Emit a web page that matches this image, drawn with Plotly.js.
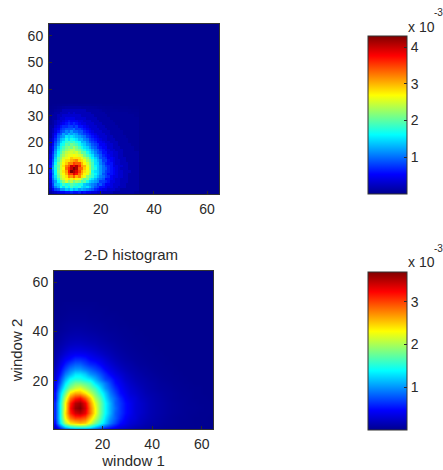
<!DOCTYPE html>
<html><head><meta charset="utf-8">
<script src="https://cdn.plot.ly/plotly-3.0.0.min.js"></script>
<style>html,body{margin:0;padding:0;background:#fff}</style></head>
<body><div id="chart" style="width:443px;height:470px"></div>
<script>
// Bins of the measured histogram (the part that is not background)
const measuredBins = [1,2,3,4,5,6,7,8,9,10,11,12,13,14,15,16,17,18,19,20,21,22,23,24,25,26,27,28,29,30,31,32,33,34];
// Densities in units of 1e-4, one row per bin, from window 2 = 1 upward
const measuredHist = [
[1,2,3,4,5,5,6,6,7,6,6,7,5,6,5,5,4,4,3,3,2,2,2,2,1,1,1,1,1,1,1,1,.5,.5],
[2,5,8,9,12,12,14,13,15,13,14,12,13,12,11,10,9,7,6,5,4,4,3,3,3,2,2,1,1,1,1,1,1,1],
[3,7,11,13,17,15,18,16,19,17,17,18,15,14,15,13,11,9,8,6,6,5,4,4,3,3,2,2,2,1,1,1,1,1],
[3,8,13,14,16,19,17,18,20,19,18,17,17,14,13,12,11,10,8,9,7,5,5,4,3,3,3,2,2,1,1,1,1,1],
[4,9,12,16,19,22,25,22,24,21,23,22,19,20,17,14,13,12,11,8,8,7,6,4,4,3,3,2,2,2,1,1,1,1],
[4,10,14,18,23,25,27,28,26,28,27,26,23,20,21,17,15,13,11,10,9,6,6,5,4,3,3,2,2,2,1,1,1,1],
[5,11,15,20,24,26,28,32,31,34,30,32,28,26,22,20,18,15,13,11,10,8,7,5,4,4,3,3,2,2,1,1,1,1],
[5,10,16,21,25,27,30,35,35,39,37,33,30,27,26,22,18,16,14,12,9,8,6,6,5,4,3,3,2,2,1,1,1,1],
[6,11,16,22,25,28,31,37,43,41,39,35,31,28,26,24,17,15,14,12,10,8,7,6,5,4,3,3,2,2,2,1,1,1],
[5,12,17,21,25,27,33,36,40,43,41,34,33,29,27,23,19,17,14,12,10,9,7,6,5,4,3,2,2,2,1,1,1,1],
[6,11,18,20,25,28,32,34,40,38,41,36,31,30,26,23,19,16,14,12,10,8,7,6,4,4,3,3,2,2,1,1,1,1],
[5,10,16,21,24,27,29,32,32,35,34,34,30,27,25,22,19,15,14,11,9,7,6,6,4,3,3,2,2,2,1,1,1,1],
[5,9,15,19,23,26,28,28,30,31,32,29,28,26,23,21,18,15,13,11,8,8,6,5,4,3,3,2,2,1,1,1,1,1],
[4,8,14,19,22,25,26,27,29,28,28,28,26,24,22,19,16,14,12,9,8,7,5,5,4,3,2,2,2,1,1,1,1,1],
[4,8,13,17,21,23,25,26,26,27,26,25,24,21,19,17,15,12,11,9,7,6,5,4,3,3,2,2,1,1,1,1,1,1],
[3,7,12,16,19,22,24,25,25,24,25,23,20,20,17,15,13,11,9,8,6,6,4,4,3,3,2,2,1,1,1,1,1,1],
[3,6,11,15,18,20,22,23,24,24,22,21,19,17,15,14,12,10,9,7,6,5,4,3,3,2,2,2,1,1,1,1,.5,.5],
[3,6,10,14,17,19,21,22,21,23,21,19,17,15,14,12,10,9,7,6,5,5,3,3,2,2,2,1,1,1,1,1,.5,.5],
[2,5,9,12,16,17,20,19,21,20,19,17,15,14,12,11,9,8,7,5,5,4,3,3,2,2,1,1,1,1,1,.5,.5,.5],
[2,4,8,11,14,16,18,19,18,19,17,16,13,13,11,9,8,7,5,5,4,3,3,2,2,2,1,1,1,1,.5,.5,.5,.5],
[2,4,7,10,13,14,17,15,17,16,15,13,13,11,10,8,7,6,5,4,3,3,2,2,2,1,1,1,1,1,.5,.5,.5,.5],
[1,3,6,9,11,12,15,14,15,14,13,12,11,10,8,7,6,5,4,3,3,3,2,2,1,1,1,1,1,.5,.5,.5,.5,.5],
[1,3,5,8,9,12,11,13,12,13,12,10,9,8,7,6,5,4,3,3,3,2,2,1,1,1,1,1,.5,.5,.5,.5,.5,.5],
[1,2,4,6,8,9,11,10,12,10,10,9,9,7,6,5,4,3,3,3,2,2,2,1,1,1,1,1,.5,.5,.5,.5,.5,.5],
[1,2,4,5,7,8,9,9,9,10,8,8,7,6,5,4,3,3,3,2,2,2,1,1,1,1,1,.5,.5,.5,.5,.5,.5,.5],
[1,1,3,4,6,7,7,8,8,7,8,6,6,5,4,3,3,3,2,2,2,1,1,1,1,1,.5,.5,.5,.5,.5,.5,.5,.5],
[.5,1,2,3,4,5,6,7,6,7,6,5,4,4,3,3,3,2,2,2,1,1,1,1,1,.5,.5,.5,.5,.5,.5,.5,.5,.5],
[.5,1,2,3,3,4,5,6,5,5,5,4,4,3,3,3,2,2,2,1,1,1,1,1,.5,.5,.5,.5,.5,.5,.5,.5,.5,.5],
[.5,1,1,2,3,3,4,4,4,4,3,3,3,3,2,2,2,2,1,1,1,1,1,.5,.5,.5,.5,.5,.5,.5,.5,.5,.5,.5],
[.3,1,1,2,2,3,3,3,3,3,3,3,2,2,2,2,2,1,1,1,1,1,.5,.5,.5,.5,.5,.5,.5,.5,.5,.5,.3,.3],
[.3,.5,1,1,2,2,2,3,2,3,2,2,2,2,2,2,1,1,1,1,1,.5,.5,.5,.5,.5,.5,.5,.5,.5,.3,.3,.3,.3],
[.2,.3,.6,.8,1,2,2,2,2,2,2,2,2,2,1,1,1,1,1,.8,.5,.5,.4,.4,.4,.4,.3,.3,.3,.3,.3,.2,.2,.2],
[.1,.2,.3,.5,.6,.8,1,1,1,1,1,1,.8,.8,.8,.7,.7,.6,.5,.4,.4,.3,.3,.3,.2,.2,.2,.2,.2,.2,.1,.1,.1,.1],
[0,.1,.1,.2,.2,.3,.3,.4,.4,.4,.4,.3,.3,.3,.3,.3,.2,.2,.2,.2,.1,.1,.1,.1,.1,.1,.1,0,0,0,0,0,0,0]
];
// Bins of the smoothed histogram
const smoothedXBins = [1,3,5,7,9,11,13,15,17,19,21,23,25,27,29,31,33,35,37,39,41,43,45,47,49,51,53,55,57,59,61,63];
const smoothedYBins = [1,3,5,7,9,11,13,15,17,19,21,23,25,27,29,31,33,35,37,39,41,43,45,47,49,51];
const smoothedHist = [
[2,6,10,12,13,13,13,12,10,8,6,5,4,3,2.5,2,1.5,1.2,1,.8,.6,.5,.4,.3,.3,.2,.2,.1,.1,.1,0,0],
[5,13,20,24,25,26,25,22,18,15,12,9,7,5,4,3,2.5,2,1.5,1.2,1,.8,.6,.5,.4,.3,.2,.2,.1,.1,.1,0],
[6,14,23,28,30,30,29,25,21,17,13,10,8,6,4.5,3.5,3,2.2,1.8,1.4,1.1,.9,.7,.5,.4,.3,.3,.2,.1,.1,.1,0],
[6,14,24,31,34,35,33,28,23,18,14,11,8,6.5,5,4,3,2.5,2,1.5,1.2,1,.8,.6,.5,.4,.3,.2,.2,.1,.1,.1],
[6,14,23,32,36,37,34,28,23,18,14,11,8.5,6.5,5,4,3,2.5,2,1.5,1.2,1,.8,.6,.5,.4,.3,.3,.2,.2,.1,.1],
[6,14,23,31,35,36,33,27,22,18,14,11,8,6.5,5,4,3,2.5,2,1.5,1.2,1,.8,.6,.5,.4,.3,.2,.2,.1,.1,.1],
[5,13,21,28,31,32,29,25,20,17,13,10,8,6,4.5,3.5,3,2.2,1.8,1.4,1.1,.9,.7,.5,.4,.3,.3,.2,.1,.1,.1,0],
[5,12,18,24,26,26,24,21,18,15,12,9,7,5,4,3,2.5,2,1.5,1.2,1,.8,.6,.5,.4,.3,.2,.2,.1,.1,0,0],
[4,10,15,19,21,22,20,18,16,13,10,8,6,4.5,3.5,2.7,2.2,1.7,1.3,1,.8,.6,.5,.4,.3,.2,.2,.1,.1,.1,0,0],
[4,8,13,16,18,18,17,16,13,11,9,7,5,4,3,2.3,1.8,1.4,1.1,.9,.7,.5,.4,.3,.2,.2,.1,.1,0,0,0,0],
[3,7,11,14,15,15,14,13,11,9,7,6,4.5,3.5,2.5,2,1.5,1.2,1,.7,.6,.4,.3,.2,.2,.1,.1,0,0,0,0,0],
[2.5,5.5,9,11,13,13,12,10,9,7.5,6,4.5,3.5,2.8,2.1,1.6,1.2,1,.7,.6,.4,.3,.2,.2,.1,.1,0,0,0,0,0,0],
[2,4.5,7,9,10,10,9,8,7,6,4.5,3.5,2.8,2.1,1.6,1.2,1,.7,.6,.4,.3,.2,.2,.1,.1,0,0,0,0,0,0,0],
[1.5,3.5,5.5,7,8,8,7,6,5.5,4.5,3.5,2.8,2.1,1.6,1.2,1,.7,.5,.4,.3,.2,.2,.1,.1,0,0,0,0,0,0,0,0],
[1.2,2.8,4.2,5,6,6,5.5,4.5,4,3.5,2.8,2.1,1.6,1.2,.9,.7,.5,.4,.3,.2,.2,.1,.1,0,0,0,0,0,0,0,0,0],
[1,2,3,3.8,4.2,4.2,4,3.5,3,2.5,2,1.6,1.2,.9,.7,.5,.4,.3,.2,.2,.1,.1,0,0,0,0,0,0,0,0,0,0],
[.8,1.5,2.2,2.8,3,3,2.8,2.5,2.2,1.8,1.5,1.2,.9,.7,.5,.4,.3,.2,.2,.1,.1,0,0,0,0,0,0,0,0,0,0,0],
[.6,1.1,1.6,2,2.2,2.2,2,1.8,1.6,1.3,1.1,.9,.7,.5,.4,.3,.2,.2,.1,.1,0,0,0,0,0,0,0,0,0,0,0,0],
[.4,.8,1.2,1.5,1.6,1.6,1.5,1.3,1.2,1,.8,.6,.5,.4,.3,.2,.2,.1,.1,0,0,0,0,0,0,0,0,0,0,0,0,0],
[.3,.6,.9,1.1,1.2,1.2,1.1,1,.9,.7,.6,.5,.4,.3,.2,.2,.1,.1,0,0,0,0,0,0,0,0,0,0,0,0,0,0],
[.2,.4,.6,.8,.9,.9,.8,.7,.6,.5,.4,.3,.3,.2,.2,.1,.1,0,0,0,0,0,0,0,0,0,0,0,0,0,0,0],
[.2,.3,.5,.6,.6,.6,.6,.5,.4,.4,.3,.2,.2,.1,.1,0,0,0,0,0,0,0,0,0,0,0,0,0,0,0,0,0],
[.1,.2,.3,.4,.4,.4,.4,.3,.3,.2,.2,.2,.1,.1,0,0,0,0,0,0,0,0,0,0,0,0,0,0,0,0,0,0],
[.1,.1,.2,.3,.3,.3,.3,.2,.2,.2,.1,.1,.1,0,0,0,0,0,0,0,0,0,0,0,0,0,0,0,0,0,0,0],
[0,.1,.1,.2,.2,.2,.2,.2,.1,.1,.1,0,0,0,0,0,0,0,0,0,0,0,0,0,0,0,0,0,0,0,0,0],
[0,0,.1,.1,.1,.1,.1,.1,.1,0,0,0,0,0,0,0,0,0,0,0,0,0,0,0,0,0,0,0,0,0,0,0]
];
const topYTicks = [10,20,30,40,50,60];
const bottomYTicks = [20,40,60];
const xTicks = [20,40,60];
const topBarTicks = [10,20,30,40];
const topBarLabels = ['1','2','3','4'];
const bottomBarTicks = [10,20,30];
const bottomBarLabels = ['1','2','3'];

const W = 443, H = 470, ink = '#2a2a2a';
const fontBase = {family:'Liberation Sans, Arial, sans-serif', size:14, color:ink};
const jet = [[0,'rgb(0,0,143)'],[0.125,'rgb(0,0,255)'],[0.375,'rgb(0,255,255)'],[0.625,'rgb(255,255,0)'],[0.875,'rgb(255,0,0)'],[1,'rgb(128,0,0)']];
const fx = p => p / W, fy = p => 1 - p / H;

function bar(top, bottom, tickvals, ticktext){
  return {x:fx(368), xanchor:'left', xpad:0, y:fy(bottom), yanchor:'bottom', ypad:0,
    len:bottom-top, lenmode:'pixels', thickness:39, thicknessmode:'pixels',
    tickmode:'array', tickvals, ticktext, ticks:'inside', ticklen:3, tickcolor:ink,
    tickfont:fontBase, outlinecolor:'#333', outlinewidth:1, borderwidth:0};
}
const traces = [
 {type:'heatmap', x:measuredBins, y:measuredBins, z:measuredHist, xaxis:'x', yaxis:'y', zmin:0, zmax:43, zsmooth:false,
  colorscale:jet, colorbar:bar(36,194,topBarTicks,topBarLabels), hoverinfo:'skip'},
 {type:'heatmap', x:smoothedXBins, y:smoothedYBins, z:smoothedHist, xaxis:'x2', yaxis:'y2', zmin:0, zmax:37, zsmooth:'best',
  colorscale:jet, colorbar:bar(272,430,bottomBarTicks,bottomBarLabels), hoverinfo:'skip'}
];
const axisBase = {range:[0.5,64.5], showgrid:false, zeroline:false, ticks:'inside', ticklen:3, tickcolor:ink,
  showline:true, linecolor:'#333', linewidth:1, mirror:true, tickfont:fontBase, tickmode:'array', layer:'above traces', ticklabelstandoff:2};
const layout = {
  width:W, height:H, margin:{l:0,r:0,t:0,b:0}, paper_bgcolor:'#fff', plot_bgcolor:'rgb(0,0,143)', showlegend:false,
  font:fontBase,
  title:{text:'2-D histogram', x:fx(131), xanchor:'center', y:fy(255), yanchor:'middle', font:{...fontBase,size:15}},
  xaxis:{...axisBase, domain:[fx(49),fx(219)], anchor:'y', tickvals:xTicks},
  yaxis:{...axisBase, domain:[fy(194),fy(24)], anchor:'x', tickvals:topYTicks},
  xaxis2:{...axisBase, domain:[fx(54),fx(213)], anchor:'y2', tickvals:xTicks, title:{text:'window 1', font:{...fontBase,size:15}, standoff:4}},
  yaxis2:{...axisBase, domain:[fy(429),fy(271)], anchor:'x2', tickvals:bottomYTicks, title:{text:'window 2', font:{...fontBase,size:15}, standoff:6}},
  annotations:[
   {text:'x 10', xref:'paper', yref:'paper', x:fx(406), y:fy(27), xanchor:'left', yanchor:'middle', showarrow:false, font:fontBase},
   {text:'-3', xref:'paper', yref:'paper', x:fx(432), y:fy(13), xanchor:'left', yanchor:'middle', showarrow:false, font:{...fontBase,size:10}},
   {text:'x 10', xref:'paper', yref:'paper', x:fx(406), y:fy(262), xanchor:'left', yanchor:'middle', showarrow:false, font:fontBase},
   {text:'-3', xref:'paper', yref:'paper', x:fx(432), y:fy(248), xanchor:'left', yanchor:'middle', showarrow:false, font:{...fontBase,size:10}}
  ]
};
Plotly.newPlot('chart', traces, layout, {displayModeBar:false, staticPlot:true});
</script></body></html>
